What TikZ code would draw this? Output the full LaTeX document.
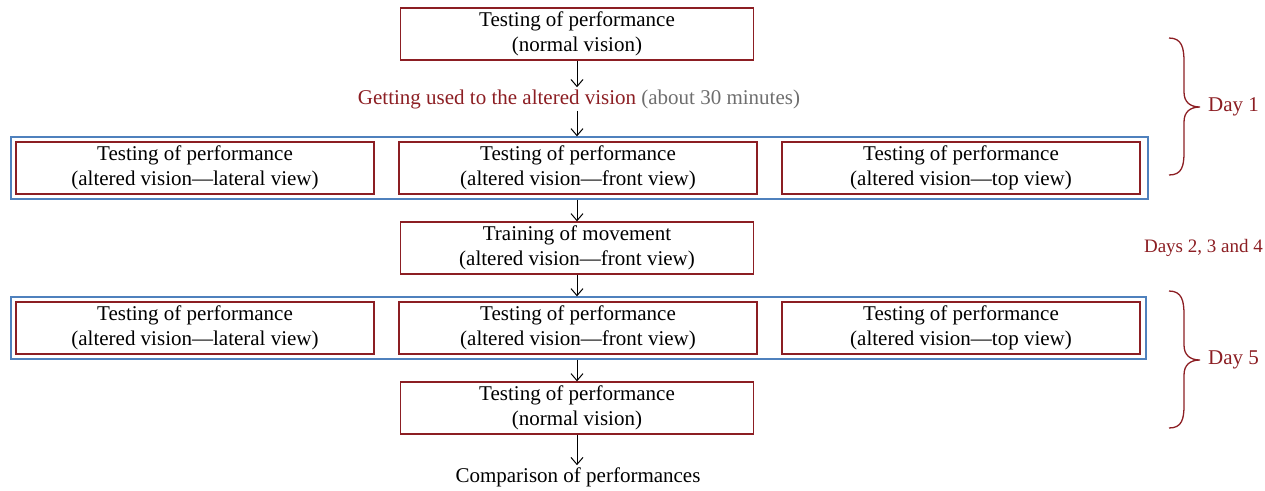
\documentclass[tikz,border=0pt]{standalone}
\usepackage{fontspec}
\setmainfont{Liberation Serif}
\usetikzlibrary{arrows.meta}
\definecolor{dred}{RGB}{140,30,35}
\definecolor{lblue}{RGB}{79,129,189}
\definecolor{tgray}{RGB}{110,110,110}
\begin{document}
\begin{tikzpicture}[x=1pt,y=-1pt, font=\fontsize{21}{25}\selectfont,
 box/.style={draw=dred, line width=1.3pt, minimum width=353pt, minimum height=52pt, align=center, inner sep=0pt},
 wbox/.style={box, minimum width=358pt},
 frame/.style={draw=lblue, line width=1.3pt, minimum height=62pt, inner sep=0pt},
 arr/.style={line width=1pt, -{Straight Barb[length=7pt,width=12pt]}},
 brace/.style={draw=dred, line width=1.3pt},
 lbl/.style={text=dred, anchor=west, inner sep=0pt}]
\useasboundingbox (0,0) rectangle (1265,490);

\node[box] (t1) at (577,34) {Testing of performance\\(normal vision)};
\node[inner sep=2pt] (get) at (579,99) {\textcolor{dred}{Getting used to the altered vision} \textcolor{tgray}{(about 30 minutes)}};

\node[frame, minimum width=1137pt] (f1) at (579.5,168) {};
\node[wbox] (a1) at (195,168) {Testing of performance\\(altered vision---lateral view)};
\node[wbox] (a2) at (578,168) {Testing of performance\\(altered vision---front view)};
\node[wbox] (a3) at (961,168) {Testing of performance\\(altered vision---top view)};

\node[box] (tr) at (577,248) {Training of movement\\(altered vision---front view)};
\node[lbl, anchor=east, font=\fontsize{19}{25}\selectfont] (d234) at (1263,248) {Days 2, 3 and 4};

\node[frame, minimum width=1135pt] (f2) at (578.5,328) {};
\node[wbox] (b1) at (195,328) {Testing of performance\\(altered vision---lateral view)};
\node[wbox] (b2) at (578,328) {Testing of performance\\(altered vision---front view)};
\node[wbox] (b3) at (961,328) {Testing of performance\\(altered vision---top view)};

\node[box] (t2) at (577,408) {Testing of performance\\(normal vision)};
\node[inner sep=2pt] (cmp) at (578,477) {Comparison of performances};

\draw[arr] (t1.south) -- (t1.south |- get.north);
\draw[arr] (get.south -| t1.south) -- (t1.south |- f1.north);
\draw[arr] (f1.south -| tr.north) -- (tr.north);
\draw[arr] (tr.south) -- (tr.south |- f2.north);
\draw[arr] (f2.south -| t2.north) -- (t2.north);
\draw[arr] (t2.south) -- (t2.south |- cmp.north);

\foreach \s/\nm/\txt in {0/day1/Day 1, 253/day5/Day 5}{
  \begin{scope}[shift={(0,\s)}]
  \draw[brace] (1169,38) .. controls (1182,38) and (1184,48) .. (1184,62) -- (1184,92) .. controls (1184,102) and (1190,107) .. (1200,107) .. controls (1190,107) and (1184,112) .. (1184,122) -- (1184,152) .. controls (1184,166) and (1182,175) .. (1169,175);
  \node[lbl] (\nm) at (1208,107) {\txt};
  \end{scope}
}
\end{tikzpicture}
\end{document}
